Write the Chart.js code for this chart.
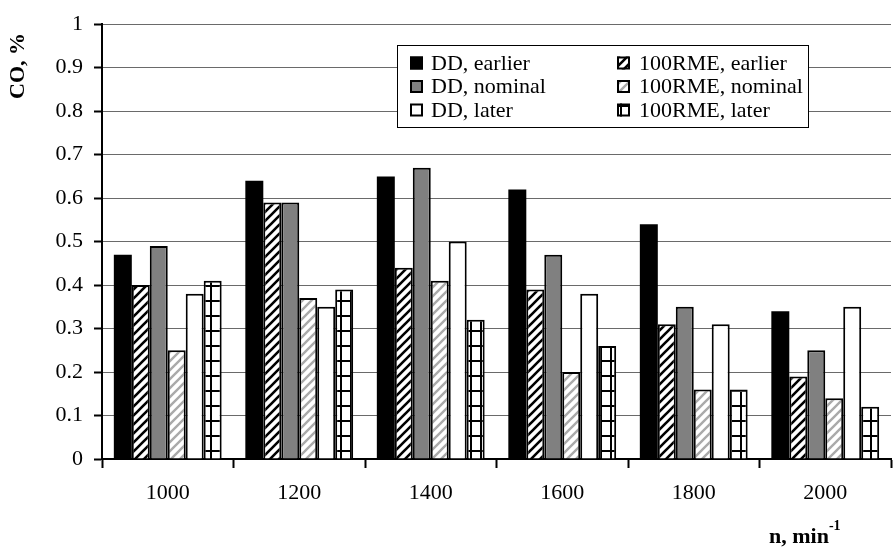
<!DOCTYPE html>
<html>
<head>
<meta charset="utf-8">
<script src="https://cdn.jsdelivr.net/npm/chart.js@4/dist/chart.umd.min.js"></script>
<style>
  body { margin: 0; background: #fff; }
  #wrap { width: 893px; height: 549px; }
</style>
</head>
<body>
<div id="wrap"><canvas id="coChart" width="893" height="549"></canvas></div>
<script>
// Engine speed groups and CO readings per fuel / injection timing
const categories = ['1000', '1200', '1400', '1600', '1800', '2000'];
const ddEarlier  = [0.47, 0.64, 0.65, 0.62, 0.54, 0.34];
const rmeEarlier = [0.40, 0.59, 0.44, 0.39, 0.31, 0.19];
const ddNominal  = [0.49, 0.59, 0.67, 0.47, 0.35, 0.25];
const rmeNominal = [0.25, 0.37, 0.41, 0.20, 0.16, 0.14];
const ddLater    = [0.38, 0.35, 0.50, 0.38, 0.31, 0.35];
const rmeLater   = [0.41, 0.39, 0.32, 0.26, 0.16, 0.12];
const seriesNames = ['DD, earlier', '100RME, earlier', 'DD, nominal',
                     '100RME, nominal', 'DD, later', '100RME, later'];

const FONT = "'Liberation Serif', 'Times New Roman', serif";

// small tiles used as bar fills
function makeHatch(color, width) {
    const c = document.createElement('canvas');
    c.width = 9; c.height = 9;
    const g = c.getContext('2d');
    g.fillStyle = '#fff';
    g.fillRect(0, 0, 9, 9);
    g.strokeStyle = color;
    g.lineWidth = width;
    g.beginPath();
    g.moveTo(-1, 10); g.lineTo(10, -1);
    g.moveTo(-5, 5); g.lineTo(5, -5);
    g.moveTo(4, 14); g.lineTo(14, 4);
    g.stroke();
    return g.createPattern(c, 'repeat');
}

function makeGrid() {
    const c = document.createElement('canvas');
    c.width = 10; c.height = 15;
    const g = c.getContext('2d');
    g.fillStyle = '#fff';
    g.fillRect(0, 0, 10, 15);
    g.fillStyle = '#000';
    g.fillRect(0, 0, 2, 15);
    g.fillRect(0, 0, 10, 2);
    return g.createPattern(c, 'repeat');
}

const fills = [
    '#000000',
    makeHatch('#000', 2.6),
    '#808080',
    makeHatch('#aaaaaa', 2.4),
    '#ffffff',
    makeGrid()
];
const seriesData = [ddEarlier, rmeEarlier, ddNominal, rmeNominal, ddLater, rmeLater];

// legend box + axis titles drawn by hand
const decorations = {
    id: 'decorations',
    afterDraw(chart) {
        const ctx = chart.ctx;
        ctx.save();

        // legend
        const box = { x: 397.5, y: 45.5, w: 411, h: 82 };
        ctx.fillStyle = '#fff';
        ctx.fillRect(box.x, box.y, box.w, box.h);
        ctx.strokeStyle = '#000';
        ctx.lineWidth = 1;
        ctx.strokeRect(box.x, box.y, box.w, box.h);

        const rows = [63, 86.5, 110];
        const cols = [{ sw: 410, tx: 431 }, { sw: 617, tx: 639 }];
        ctx.font = '22px ' + FONT;
        ctx.textBaseline = 'middle';
        ctx.textAlign = 'left';
        chart.data.datasets.forEach((ds, i) => {
            const col = cols[i % 2];
            const y = rows[Math.floor(i / 2)];
            ctx.fillStyle = ds.backgroundColor;
            ctx.fillRect(col.sw, y - 6.5, 13, 13);
            ctx.strokeStyle = '#000';
            ctx.lineWidth = 2;
            ctx.strokeRect(col.sw + 1, y - 5.5, 11, 11);
            ctx.fillStyle = '#000';
            ctx.fillText(ds.label, col.tx, y + 1);
        });

        // y axis title
        ctx.font = 'bold 22px ' + FONT;
        ctx.translate(17, 66);
        ctx.rotate(-Math.PI / 2);
        ctx.textAlign = 'center';
        ctx.textBaseline = 'middle';
        ctx.fillText('CO, %', 0, 1);
        ctx.setTransform(1, 0, 0, 1, 0, 0);

        // x axis title with superscript
        ctx.textAlign = 'left';
        ctx.textBaseline = 'alphabetic';
        ctx.font = 'bold 22px ' + FONT;
        ctx.fillText('n, min', 769, 543);
        const w = ctx.measureText('n, min').width;
        ctx.font = 'bold 14px ' + FONT;
        ctx.fillText('-1', 769 + w, 530);

        ctx.restore();
    }
};

new Chart(document.getElementById('coChart'), {
    type: 'bar',
    data: {
        labels: categories,
        datasets: seriesData.map((d, i) => ({
            label: seriesNames[i],
            data: d,
            backgroundColor: fills[i],
            borderColor: '#000',
            borderWidth: i === 0 ? 0 : 2,
            borderSkipped: 'bottom'
        }))
    },
    options: {
        responsive: false,
        animation: false,
        events: [],
        layout: { padding: { top: 13, right: 2, left: 0, bottom: 0 } },
        datasets: {
            bar: { categoryPercentage: 0.82, barPercentage: 1 }
        },
        plugins: {
            legend: { display: false },
            tooltip: { enabled: false }
        },
        scales: {
            x: {
                offset: true,
                afterFit(scale) { scale.height = 90; },
                grid: {
                    offset: true,
                    drawOnChartArea: false,
                    tickLength: 9,
                    tickColor: '#000',
                    tickWidth: 2
                },
                border: { color: '#000', width: 2 },
                ticks: {
                    color: '#000',
                    padding: 12,
                    font: { family: FONT, size: 22 }
                }
            },
            y: {
                min: 0,
                max: 1,
                afterFit(scale) { scale.width = 102; },
                grid: {
                    color: '#6a6a6a',
                    lineWidth: 1,
                    tickLength: 8,
                    tickColor: '#000',
                    tickWidth: 2
                },
                border: { color: '#000', width: 2 },
                ticks: {
                    stepSize: 0.1,
                    color: '#000',
                    padding: 11,
                    font: { family: FONT, size: 22 },
                    callback: v => String(Number(v.toFixed(1)))
                }
            }
        }
    },
    plugins: [decorations]
});
</script>
</body>
</html>
